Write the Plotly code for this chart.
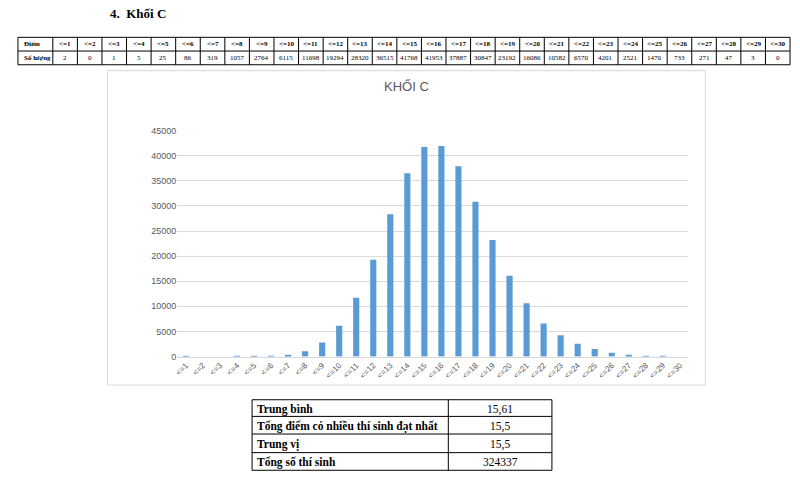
import plotly.graph_objects as go

# ---------------- data ----------------
categories = ["<=%d" % i for i in range(1, 31)]
counts = [2, 0, 1, 5, 25, 86, 319, 1057, 2764, 6115, 11698, 19294, 28320, 36515,
          41768, 41953, 37887, 30847, 23192, 16086, 10582, 6570, 4201, 2521, 1470,
          733, 271, 47, 3, 0]
y_max = 45000
y_step = 5000
stat_labels = ["Trung bình", "Tổng điểm có nhiều thí sinh đạt nhất", "Trung vị", "Tổng số thí sinh"]
stat_values = ["15,61", "15,5", "15,5", "324337"]
heading = "4.  Khối C"
chart_title = "KHỐI C"
row_head = ["Điểm", "Số lượng"]

W, H = 800, 488
def px(x):
    return x / W
def py(y):
    return 1 - y / H

def esc(s):
    return s.replace("<", "&lt;").replace(">", "&gt;")

SERIF = "Liberation Serif"
SANS = "Liberation Sans"
GREY = "#595959"
GRID = "#D9D9D9"

shapes = []
annotations = []

# heading
annotations.append(dict(x=px(105), y=py(9), xref="paper", yref="paper", text="<b>%s</b>" % heading,
                        showarrow=False, xanchor="left", yanchor="middle",
                        font=dict(family=SERIF, size=13, color="#000")))

# ---------------- top table ----------------
t_left, t_first, t_right = 15, 50, 790
t_top, t_mid, t_bot = 33, 47, 61
ncol = len(categories)
cw = (t_right - t_first) / ncol
col_x = [t_left, t_first] + [t_first + cw * (i + 1) for i in range(ncol)]
for x in col_x:
    shapes.append(dict(type="line", xref="paper", yref="paper", x0=px(x), x1=px(x),
                       y0=py(t_top), y1=py(t_bot), line=dict(color="#000", width=1)))
for y in (t_top, t_mid, t_bot):
    shapes.append(dict(type="line", xref="paper", yref="paper", x0=px(t_left), x1=px(t_right),
                       y0=py(y), y1=py(y), line=dict(color="#000", width=1)))
for r, lab in enumerate(row_head):
    yc = (t_top + t_mid) / 2 if r == 0 else (t_mid + t_bot) / 2
    annotations.append(dict(x=px(t_left + 4), y=py(yc), xref="paper", yref="paper",
                            text="<b>%s</b>" % lab, showarrow=False, xanchor="left", yanchor="middle",
                            font=dict(family=SERIF, size=7, color="#000")))
for i, (c, v) in enumerate(zip(categories, counts)):
    xc = t_first + cw * (i + 0.5)
    annotations.append(dict(x=px(xc), y=py((t_top + t_mid) / 2), xref="paper", yref="paper",
                            text="<b>%s</b>" % esc(c), showarrow=False, xanchor="center", yanchor="middle",
                            font=dict(family=SERIF, size=7, color="#000")))
    annotations.append(dict(x=px(xc), y=py((t_mid + t_bot) / 2), xref="paper", yref="paper",
                            text=str(v), showarrow=False, xanchor="center", yanchor="middle",
                            font=dict(family=SERIF, size=7, color="#000")))

# ---------------- chart box ----------------
shapes.append(dict(type="rect", xref="paper", yref="paper", x0=px(105), x1=px(705),
                   y0=py(388), y1=py(67), line=dict(color=GRID, width=1), fillcolor="rgba(0,0,0,0)"))
annotations.append(dict(x=px(405), y=py(83), xref="paper", yref="paper", text=chart_title,
                        showarrow=False, xanchor="center", yanchor="middle",
                        font=dict(family=SANS, size=13, color=GREY)))

# ---------------- bottom table ----------------
b_left, b_div, b_right = 250, 447, 551
b_rows = [403, 420, 438, 457, 475]
for x in (b_left, b_div, b_right):
    shapes.append(dict(type="line", xref="paper", yref="paper", x0=px(x), x1=px(x),
                       y0=py(b_rows[0]), y1=py(b_rows[-1]), line=dict(color="#000", width=1)))
for y in b_rows:
    shapes.append(dict(type="line", xref="paper", yref="paper", x0=px(b_left), x1=px(b_right),
                       y0=py(y), y1=py(y), line=dict(color="#000", width=1)))
for i, (lab, val) in enumerate(zip(stat_labels, stat_values)):
    yc = (b_rows[i] + b_rows[i + 1]) / 2 + 1
    annotations.append(dict(x=px(b_left + 3), y=py(yc), xref="paper", yref="paper",
                            text="<b>%s</b>" % lab, showarrow=False, xanchor="left", yanchor="middle",
                            font=dict(family=SERIF, size=11.5, color="#000")))
    annotations.append(dict(x=px((b_div + b_right) / 2), y=py(yc), xref="paper", yref="paper",
                            text=val, showarrow=False, xanchor="center", yanchor="middle",
                            font=dict(family=SERIF, size=11.5, color="#000")))

# ---------------- bars ----------------
fig = go.Figure(go.Bar(x=categories, y=counts, marker=dict(color="#5B9BD5", line=dict(width=0)),
                       hoverinfo="x+y"))

fig.update_layout(
    width=W, height=H,
    margin=dict(l=0, r=0, t=0, b=0),
    paper_bgcolor="white", plot_bgcolor="white",
    bargap=0.64,
    showlegend=False,
    shapes=shapes,
    annotations=annotations,
    xaxis=dict(domain=[px(175), px(688)], type="category",
               tickvals=categories, ticktext=[esc(c) for c in categories],
               tickangle=-45, tickfont=dict(family=SANS, size=8, color=GREY),
               showgrid=False, showline=True, linecolor=GRID, linewidth=1,
               ticks="", zeroline=False, fixedrange=True),
    yaxis=dict(domain=[py(359), py(128.3)], range=[-40, y_max],
               tickmode="linear", tick0=0, dtick=y_step, tickformat="d",
               tickfont=dict(family=SANS, size=9, color=GREY),
               showgrid=True, gridcolor=GRID, gridwidth=1, zeroline=False,
               showline=False, ticks="", ticklen=0, fixedrange=True),
)

fig.write_html("out.html")
